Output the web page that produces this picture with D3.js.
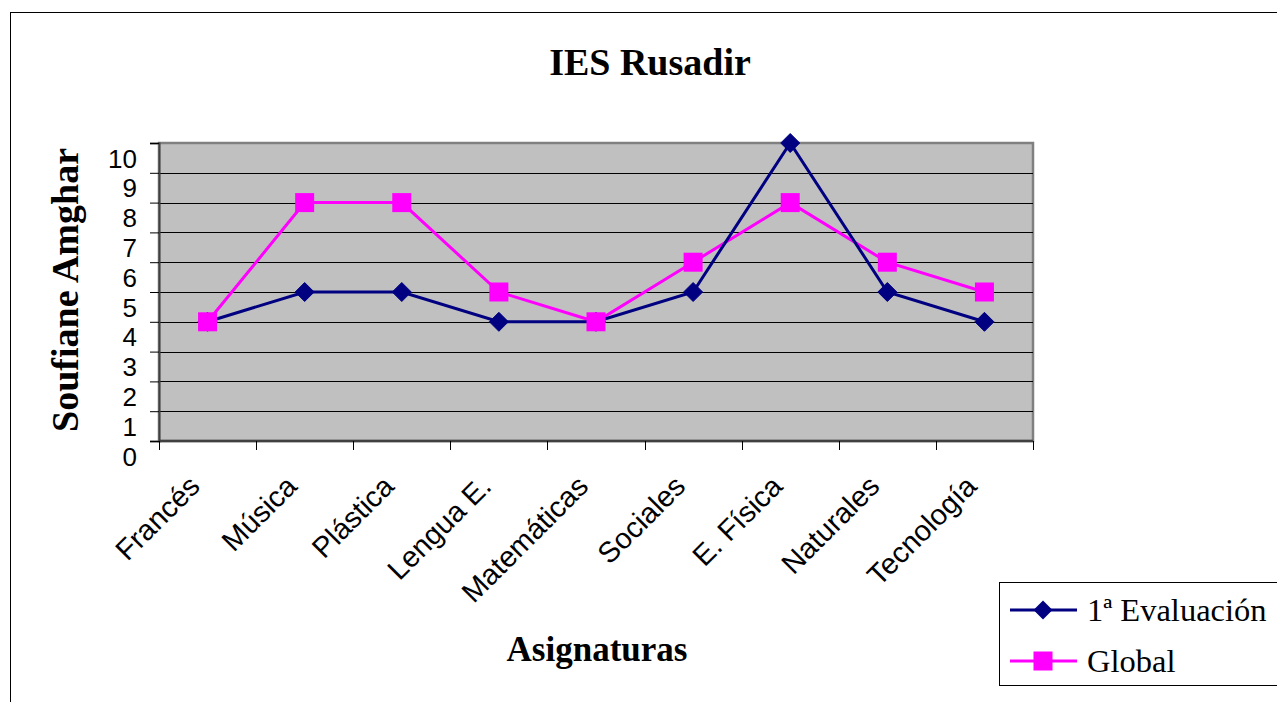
<!DOCTYPE html>
<html><head><meta charset="utf-8">
<script src="https://cdn.jsdelivr.net/npm/d3@7"></script>
<style>body{margin:0;background:#fff}svg{display:block}</style>
</head><body>
<svg id="c" width="1277" height="702"></svg>
<script>
const categories = ["Francés","Música","Plástica","Lengua E.","Matemáticas","Sociales","E. Física","Naturales","Tecnología"];
const evaluacion1 = [4,5,5,4,4,5,10,5,4];
const globalVals = [4,8,8,5,4,6,8,6,5];
const yTicks = [0,1,2,3,4,5,6,7,8,9,10];
const seriesNames = ["1ª Evaluación","Global"];

const svg = d3.select("#c");
const L = 159, R = 1033, T = 143, B = 441;
const x = d3.scaleBand().domain(categories).range([L, R]);
const y = d3.scaleLinear().domain([0, 10]).range([B, T]);

// outer border
svg.append("rect").attr("x",10.5).attr("y",12.5).attr("width",1300).attr("height",720)
  .attr("fill","#fff").attr("stroke","#000").attr("stroke-width",1);

// plot area
svg.append("rect").attr("x",L).attr("y",T).attr("width",R-L).attr("height",B-T)
  .attr("fill","#c0c0c0").attr("stroke","#808080").attr("stroke-width",2.5);

// gridlines
svg.append("g").selectAll("line").data(yTicks.filter(d=>d>0&&d<10)).join("line")
  .attr("x1",L).attr("x2",R).attr("y1",d=>Math.round(y(d))+0.5).attr("y2",d=>Math.round(y(d))+0.5)
  .attr("stroke","#000").attr("stroke-width",1);

// y axis
const ya = svg.append("g").attr("transform",`translate(${L},0)`)
  .call(d3.axisLeft(y).tickValues(yTicks).tickSize(9).tickPadding(13).tickFormat(d3.format("d")));
ya.select(".domain").attr("stroke","#404040").attr("stroke-width",2);
ya.selectAll(".tick line").attr("stroke","#000");
ya.selectAll(".tick text").attr("dy","0.35em").attr("y",15)
  .style("font-family","'Liberation Sans', Arial, sans-serif").style("font-size","26px").attr("fill","#000");

// x axis line
svg.append("line").attr("x1",L).attr("x2",R).attr("y1",B).attr("y2",B)
  .attr("stroke","#404040").attr("stroke-width",2.5);
// x boundary ticks
const bounds = categories.map(c=>x(c)).concat([x.range()[1]]);
svg.append("g").selectAll("line").data(bounds).join("line")
  .attr("x1",d=>Math.round(d)+0.5).attr("x2",d=>Math.round(d)+0.5).attr("y1",B).attr("y2",B+9)
  .attr("stroke","#000").attr("stroke-width",1);
// x labels
svg.append("g").selectAll("text").data(categories).join("text")
  .attr("transform",d=>`translate(${x(d)+x.bandwidth()/2-6},${B+47}) rotate(-45)`)
  .attr("text-anchor","end")
  .style("font-family","'Liberation Sans', Arial, sans-serif").style("font-size","29px")
  .text(d=>d);

// lines
const line = d3.line().x((d,i)=>x(categories[i])+x.bandwidth()/2).y(d=>y(d));
svg.append("path").datum(globalVals).attr("d",line).attr("fill","none").attr("stroke","#ff00ff").attr("stroke-width",3);
svg.append("path").datum(evaluacion1).attr("d",line).attr("fill","none").attr("stroke","#000080").attr("stroke-width",3);

// markers
const diamond = s => `M0,${-s}L${s},0L0,${s}L${-s},0Z`;
svg.append("g").selectAll("path").data(evaluacion1).join("path")
  .attr("transform",(d,i)=>`translate(${x(categories[i])+x.bandwidth()/2},${y(d)})`)
  .attr("d",diamond(9.5)).attr("fill","#000080").attr("stroke","#000080").attr("stroke-linejoin","round");
svg.append("g").selectAll("rect").data(globalVals).join("rect")
  .attr("x",(d,i)=>x(categories[i])+x.bandwidth()/2-9.5).attr("y",d=>y(d)-9.5)
  .attr("width",19).attr("height",19).attr("fill","#ff00ff");

// titles
svg.append("text").attr("x",650).attr("y",75).attr("text-anchor","middle")
  .style("font-family","'Liberation Serif', 'Times New Roman', serif").style("font-weight","bold").style("font-size","38px")
  .text("IES Rusadir");
svg.append("text").attr("x",597).attr("y",661).attr("text-anchor","middle")
  .style("font-family","'Liberation Serif', 'Times New Roman', serif").style("font-weight","bold").style("font-size","35px")
  .text("Asignaturas");
svg.append("text").attr("transform","translate(78,290) rotate(-90)").attr("text-anchor","middle")
  .style("font-family","'Liberation Serif', 'Times New Roman', serif").style("font-weight","bold").style("font-size","38px")
  .text("Soufiane Amghar");

// legend
const lg = svg.append("g");
lg.append("rect").attr("x",999.5).attr("y",582.5).attr("width",320).attr("height",103)
  .attr("fill","#fff").attr("stroke","#000").attr("stroke-width",1);
const rows = [{name:seriesNames[0],color:"#000080",shape:"d",y:610},{name:seriesNames[1],color:"#ff00ff",shape:"s",y:661}];
const lr = lg.selectAll("g").data(rows).join("g").attr("transform",d=>`translate(0,${d.y})`);
lr.append("line").attr("x1",1010).attr("x2",1077).attr("stroke",d=>d.color).attr("stroke-width",3);
lr.filter(d=>d.shape==="d").append("path").attr("transform","translate(1043,0)").attr("d",diamond(9.5)).attr("fill",d=>d.color);
lr.filter(d=>d.shape==="s").append("rect").attr("x",1043-9.5).attr("y",-9.5).attr("width",19).attr("height",19).attr("fill",d=>d.color);
lr.append("text").attr("x",1087).attr("y",11)
  .style("font-family","'Liberation Serif', 'Times New Roman', serif").style("font-size","32.5px")
  .text(d=>d.name);
</script>
</body></html>
